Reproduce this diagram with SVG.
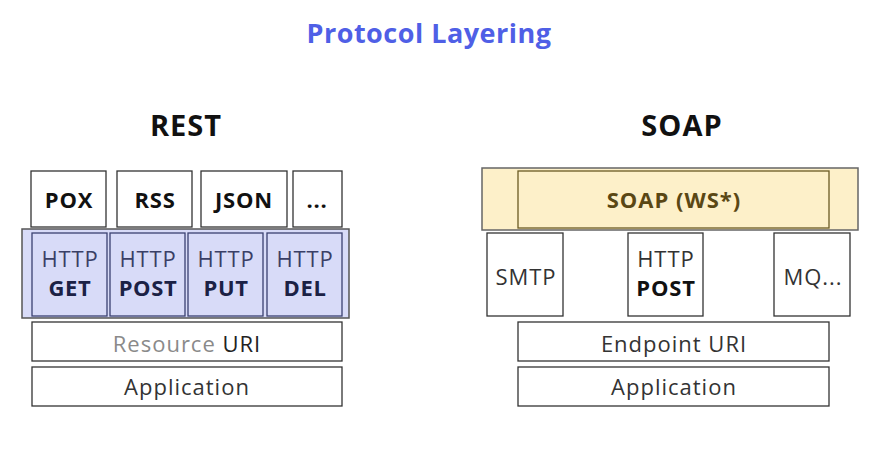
<svg xmlns="http://www.w3.org/2000/svg" width="883" height="454" viewBox="0 0 883 454">
<style>
text{font-family:"Open Sans","Liberation Sans",sans-serif;text-anchor:middle}
.title{font-size:27px;font-weight:700;fill:#4f5fe6;letter-spacing:0.5px}
.head{font-size:29px;font-weight:700;fill:#111;letter-spacing:1px}
.box{fill:#fff;stroke:#333;stroke-width:1.3}
.lbl{font-size:22px;fill:#333;letter-spacing:1px}
.bold{font-size:22px;font-weight:700;fill:#111;letter-spacing:0.8px}
.blueOuter{fill:#d8dbf8;stroke:#555;stroke-width:1.5}
.blueIn{fill:#d8dbf8;stroke:#3b4170;stroke-width:1.3}
.hreg{font-size:22px;fill:#3a3f66;letter-spacing:0.8px}
.hbold{font-size:22px;font-weight:700;fill:#1b2145;letter-spacing:0.6px}
.yelOuter{fill:#fdf0c9;stroke:#666;stroke-width:1.5}
.yelIn{fill:#fdf0c9;stroke:#6b5a24;stroke-width:1.3}
.ytext{font-size:22px;font-weight:700;fill:#5a4714;letter-spacing:1px}
</style>
<rect width="883" height="454" fill="#fff"/>
<text class="title" x="429" y="43">Protocol Layering</text>
<text class="head" x="186" y="136">REST</text>
<text class="head" x="682" y="136">SOAP</text>

<g id="rest">
  <g id="pox"><rect class="box" x="31" y="171" width="75" height="56"/><text class="bold" x="69" y="208">POX</text></g>
  <g id="rss"><rect class="box" x="117" y="171" width="75" height="56"/><text class="bold" x="155" y="208">RSS</text></g>
  <g id="json"><rect class="box" x="201" y="171" width="86" height="56"/><text class="bold" x="244" y="208">JSON</text></g>
  <g id="more"><rect class="box" x="293" y="171" width="49" height="56"/><text class="bold" x="317" y="208">...</text></g>
  <g id="http-layer"><rect class="blueOuter" x="22" y="229" width="327" height="89"/></g>
  <g id="get"><rect class="blueIn" x="32" y="233" width="75" height="83"/><text class="hreg" x="70" y="267">HTTP</text><text class="hbold" x="70" y="296">GET</text></g>
  <g id="post"><rect class="blueIn" x="110" y="233" width="75" height="83"/><text class="hreg" x="148" y="267">HTTP</text><text class="hbold" x="148" y="296">POST</text></g>
  <g id="put"><rect class="blueIn" x="188" y="233" width="75" height="83"/><text class="hreg" x="226" y="267">HTTP</text><text class="hbold" x="226" y="296">PUT</text></g>
  <g id="del"><rect class="blueIn" x="267" y="233" width="75" height="83"/><text class="hreg" x="305" y="267">HTTP</text><text class="hbold" x="305" y="296">DEL</text></g>
  <g id="resource-uri"><rect class="box" x="32" y="322" width="310" height="39"/><text class="lbl" x="187" y="352"><tspan fill="#8a8a8a">Resource</tspan> <tspan fill="#222">URI</tspan></text></g>
  <g id="rest-app"><rect class="box" x="32" y="367" width="310" height="39"/><text class="lbl" x="187" y="395">Application</text></g>
</g>

<g id="soap">
  <g id="soap-ws"><rect class="yelOuter" x="482" y="168" width="376" height="62"/><rect class="yelIn" x="518" y="171" width="311" height="57"/><text class="ytext" x="674" y="208">SOAP (WS*)</text></g>
  <g id="smtp"><rect class="box" x="487" y="233" width="76" height="83"/><text class="lbl" x="526" y="285">SMTP</text></g>
  <g id="soap-post"><rect class="box" x="628" y="233" width="75" height="83"/><text class="lbl" x="666" y="267">HTTP</text><text class="bold" x="666" y="296">POST</text></g>
  <g id="mq"><rect class="box" x="774" y="233" width="76" height="83"/><text class="lbl" x="813" y="285">MQ...</text></g>
  <g id="endpoint-uri"><rect class="box" x="518" y="322" width="311" height="39"/><text class="lbl" x="674" y="352">Endpoint URI</text></g>
  <g id="soap-app"><rect class="box" x="518" y="367" width="311" height="39"/><text class="lbl" x="674" y="395">Application</text></g>
</g>
<g id="connectors"/>
</svg>
